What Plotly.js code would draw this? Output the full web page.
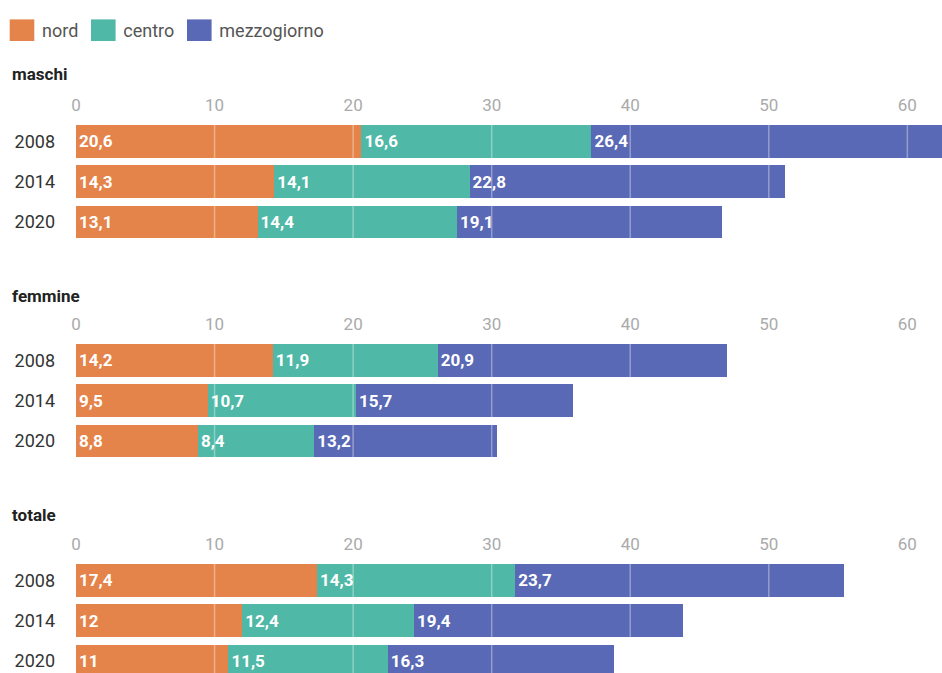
<!DOCTYPE html>
<html>
<head>
<meta charset="utf-8">
<script src="https://cdn.plot.ly/plotly-3.0.1.min.js"></script>
<style>html,body{margin:0;padding:0;background:#fff}#chart{width:942px;height:673px}</style>
</head>
<body>
<div id="chart"></div>
<script>
// ---- data ----
const years = ['2008', '2014', '2020'];
const seriesNames = ['nord', 'centro', 'mezzogiorno'];
const panelTitles = ['maschi', 'femmine', 'totale'];
const xTicks = [0, 10, 20, 30, 40, 50, 60];

const maschiNord = [20.6, 14.3, 13.1];
const maschiCentro = [16.6, 14.1, 14.4];
const maschiMezzogiorno = [26.4, 22.8, 19.1];

const femmineNord = [14.2, 9.5, 8.8];
const femmineCentro = [11.9, 10.7, 8.4];
const femmineMezzogiorno = [20.9, 15.7, 13.2];

const totaleNord = [17.4, 12, 11];
const totaleCentro = [14.3, 12.4, 11.5];
const totaleMezzogiorno = [23.7, 19.4, 16.3];

// ---- styling ----
const colors = ['#E5844A', '#4FB8A7', '#5A69B6'];
const FONT = 'Roboto, "DejaVu Sans", sans-serif';
const W = 942, H = 673;

const panels = [
  [maschiNord, maschiCentro, maschiMezzogiorno],
  [femmineNord, femmineCentro, femmineMezzogiorno],
  [totaleNord, totaleCentro, totaleMezzogiorno]
];

// pixel layout (top, bottom) of each panel, converted to paper fractions
const panelPx = [[121, 242], [340, 461], [560, 673]];
const pitch = 40.4;
const titleY = [74, 296, 515];

const fmt = v => String(v).replace('.', ',');

const traces = [];
panels.forEach((pan, p) => {
  const suf = p === 0 ? '' : String(p + 1);
  pan.forEach((vals, s) => {
    traces.push({
      type: 'bar',
      orientation: 'h',
      name: seriesNames[s],
      legendgroup: seriesNames[s],
      showlegend: p === 0,
      x: vals,
      y: years,
      xaxis: 'x' + suf,
      yaxis: 'y' + suf,
      marker: {color: colors[s], line: {width: 0}},
      text: vals.map(fmt),
      textposition: 'inside',
      insidetextanchor: 'start',
      textfont: {color: '#ffffff', size: 17, family: FONT, weight: 'bold'},
      constraintext: 'none',
      hoverinfo: 'x+y+name',
      cliponaxis: true
    });
  });
});

const layout = {
  width: W, height: H,
  margin: {l: 0, r: 0, t: 0, b: 0},
  paper_bgcolor: '#ffffff',
  plot_bgcolor: '#ffffff',
  barmode: 'stack',
  bargap: 0.19,
  font: {family: FONT, color: '#333'},
  showlegend: true,
  legend: {
    orientation: 'h', x: 2 / W, xanchor: 'left', y: 1 - 12 / H, yanchor: 'top',
    font: {size: 18, color: '#555', family: FONT}, traceorder: 'normal',
    itemwidth: 30, bgcolor: 'rgba(0,0,0,0)'
  },
  annotations: [],
  shapes: []
};

panels.forEach((pan, p) => {
  const suf = p === 0 ? '' : String(p + 1);
  const [top, bot] = panelPx[p];
  const dom = [1 - bot / H, 1 - top / H];
  const nUnits = (bot - top) / pitch;
  layout['xaxis' + suf] = {
    domain: [76 / W, 1],
    anchor: 'y' + suf,
    side: 'top',
    range: [0, 62.5],
    tickvals: xTicks,
    ticktext: xTicks.map(String),
    showgrid: false, zeroline: false, showline: false,
    ticks: '', ticklabelstandoff: 6,
    tickfont: {size: 17, color: '#aaaaaa', family: FONT},
    fixedrange: true
  };
  layout['yaxis' + suf] = {
    domain: dom,
    anchor: 'x' + suf,
    type: 'category',
    categoryorder: 'array', categoryarray: years,
    range: [-0.5 + nUnits, -0.5],
    showgrid: false, zeroline: false, showline: false,
    ticks: '', ticklabelstandoff: 20,
    tickfont: {size: 18, color: '#333333', family: FONT},
    fixedrange: true
  };
  layout.annotations.push({
    text: '<b>' + panelTitles[p] + '</b>',
    xref: 'paper', yref: 'paper',
    x: 10 / W, xanchor: 'left',
    y: 1 - titleY[p] / H, yanchor: 'middle',
    showarrow: false,
    font: {size: 17, color: '#222', family: FONT}
  });
  xTicks.slice(1).forEach(t => {
    layout.shapes.push({
      type: 'line', layer: 'above',
      xref: 'x' + suf, yref: 'y' + suf + ' domain',
      x0: t, x1: t, y0: 0, y1: 1,
      line: {color: 'rgba(255,255,255,0.35)', width: 1.5}
    });
  });
});

Plotly.newPlot('chart', traces, layout, {displayModeBar: false, staticPlot: true}).then(gd => {
  // enlarge the legend swatches (keep Plotly's own placement, then scale about the swatch centre)
  gd.querySelectorAll('.legend .legendpoints path').forEach(el => {
    const prev = el.getAttribute('transform') || '';
    el.setAttribute('transform', prev + ' scale(2.05,1.8)');
  });
});
</script>
</body>
</html>
